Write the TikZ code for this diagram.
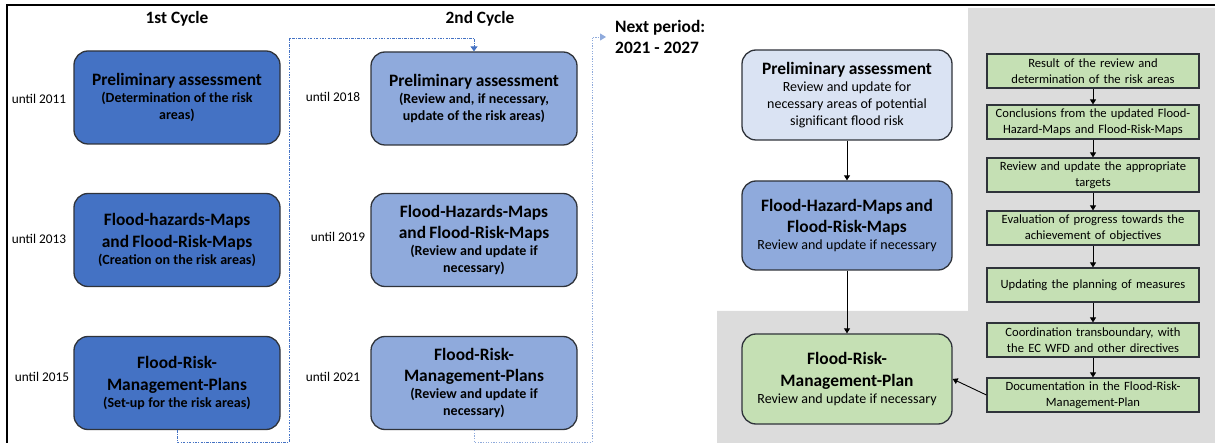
\documentclass[tikz,border=0pt]{standalone}
\usepackage{fontspec}
\setmainfont{Carlito}
\usetikzlibrary{arrows.meta}

\definecolor{dkblue}{HTML}{4472C4}
\definecolor{mdblue}{HTML}{8FAADC}
\definecolor{ltblue}{HTML}{DAE3F3}
\definecolor{ltgreen}{HTML}{C5E0B4}
\definecolor{panelgray}{HTML}{DCDCDC}
\definecolor{edge}{HTML}{2F333A}

\newcommand\boxtitle{\fontsize{17.4}{21.5}\selectfont\bfseries}
\newcommand\boxsub{\fontsize{14}{17.2}\selectfont\bfseries}
\newcommand\boxplain{\fontsize{14}{17}\selectfont}

\tikzset{
  bigbox/.style={draw=edge, line width=1.3pt, rounded corners=14pt,
    minimum width=206pt, minimum height=93pt, text width=202pt,
    align=center, inner sep=2pt},
  stepbox/.style={draw=edge, line width=1.2pt, fill=ltgreen,
    minimum width=212pt, minimum height=34pt, text width=208pt,
    align=center, inner sep=1pt, font=\fontsize{12.6}{16}\selectfont},
  yearlbl/.style={font=\fontsize{13.3}{15}\selectfont},
  cycletitle/.style={font=\fontsize{17.3}{20}\selectfont\bfseries},
  flow/.style={draw=black, line width=0.9pt, -{Triangle[width=6pt,length=5pt]}},
  cycA/.style={draw=dkblue, line width=0.9pt,
    dash pattern=on 2.5pt off 1.3pt on 0.8pt off 1.3pt,
    -{Triangle[width=7pt,length=5pt]}},
  cycB/.style={draw=mdblue, line width=0.9pt,
    dash pattern=on 1.3pt off 1.3pt,
    -{Triangle[width=7pt,length=6pt]}},
}

\begin{document}
\begin{tikzpicture}[x=1pt, y=-1pt]
\useasboundingbox (0,0) rectangle (1215,443);
\clip (0,0) rectangle (1215,443);

% grey panel behind the measures planning column
\fill[panelgray] (968,8) -- (1215,8) -- (1215,443) -- (717,443)
  -- (717,311) -- (968,311) -- cycle;

% outer frame
\draw[black, line width=2pt] (7,460) -- (7,5) -- (1220,5);

% column headings
\node[cycletitle] (h1) at (177,19) {1st Cycle};
\node[cycletitle] (h2) at (480,19) {2nd Cycle};
\node[anchor=west, align=left, inner sep=0pt,
  font=\fontsize{17.4}{21}\selectfont\bfseries] (np) at (615,37)
  {Next period:\\2021 - 2027};

% first cycle
\node[bigbox, fill=dkblue] (f1) at (177,97.5)
  {{\boxtitle Preliminary assessment\par}{\boxsub (Determination of the risk\\ areas)\par}};
\node[bigbox, fill=dkblue] (f2) at (177,240)
  {{\boxtitle Flood-hazards-Maps\\ and Flood-Risk-Maps\par}{\boxsub (Creation on the risk areas)\par}};
\node[bigbox, fill=dkblue] (f3) at (177,383)
  {{\boxtitle Flood-Risk-\\ Management-Plans\par}{\boxsub (Set-up for the risk areas)\par}};

\node[yearlbl] (y1) at (39,99) {until 2011};
\node[yearlbl] (y2) at (39,239) {until 2013};
\node[yearlbl] (y3) at (42,377) {until 2015};

% second cycle
\node[bigbox, fill=mdblue] (s1) at (474,98.5)
  {{\boxtitle Preliminary assessment\par}{\boxsub (Review and, if necessary,\\ update of the risk areas)\par}};
\node[bigbox, fill=mdblue] (s2) at (474,240)
  {{\boxtitle Flood-Hazards-Maps\\ and Flood-Risk-Maps\par}{\boxsub (Review and update if\\ necessary)\par}};
\node[bigbox, fill=mdblue] (s3) at (474,383)
  {{\boxtitle Flood-Risk-\\ Management-Plans\par}{\boxsub (Review and update if\\ necessary)\par}};

\node[yearlbl] (y4) at (333,97) {until 2018};
\node[yearlbl] (y5) at (338,237) {until 2019};
\node[yearlbl] (y6) at (333,377) {until 2021};

% hand-over between the cycles
\coordinate (a1) at (289,442);
\coordinate (a2) at (289,38);
\draw[cycA] (f3.south) |- (a1) -- (a2) -| (s1.north);

\coordinate (b1) at (592,442);
\coordinate (b2) at (592,37);
\coordinate (b3) at (606,37);
\draw[cycB] (s3.south) |- (b1) -- (b2) -- (b3);

% next period
\node[bigbox, fill=ltblue, minimum width=210pt, minimum height=90pt] (n1) at (847,95)
  {{\boxtitle Preliminary assessment\par}{\boxplain Review and update for\\ necessary areas of potential\\ significant flood risk\par}};
\node[bigbox, fill=mdblue, minimum width=210pt, minimum height=89pt] (n2) at (847,225.5)
  {{\boxtitle Flood-Hazard-Maps and\\ Flood-Risk-Maps\par}{\boxplain Review and update if necessary\par}};
\node[bigbox, fill=ltgreen, minimum width=210pt, minimum height=90pt] (n3) at (847,379)
  {{\boxtitle Flood-Risk-\\ Management-Plan\par}{\boxplain Review and update if necessary\par}};

\draw[flow] (n1.south) -- (n2.north);
\draw[flow] (n2.south) -- (n3.north);

% steps of the management plan update
\node[stepbox] (g1) at (1093,71)  {Result of the review and\\ determination of the risk areas};
\node[stepbox] (g2) at (1093,122) {Conclusions from the updated Flood-\\ Hazard-Maps and Flood-Risk-Maps};
\node[stepbox] (g3) at (1093,175) {Review and update the appropriate\\ targets};
\node[stepbox] (g4) at (1093,228) {Evaluation of progress towards the\\ achievement of objectives};
\node[stepbox] (g5) at (1093,285) {Updating the planning of measures};
\node[stepbox] (g6) at (1093,340) {Coordination transboundary, with\\ the EC WFD and other directives};
\node[stepbox] (g7) at (1093,395) {Documentation in the Flood-Risk-\\ Management-Plan};

\draw[flow] (g1) -- (g2);
\draw[flow] (g2) -- (g3);
\draw[flow] (g3) -- (g4);
\draw[flow] (g4) -- (g5);
\draw[flow] (g5) -- (g6);
\draw[flow] (g6) -- (g7);
\draw[flow] (g7.west) -- (n3.east);

\end{tikzpicture}
\end{document}
